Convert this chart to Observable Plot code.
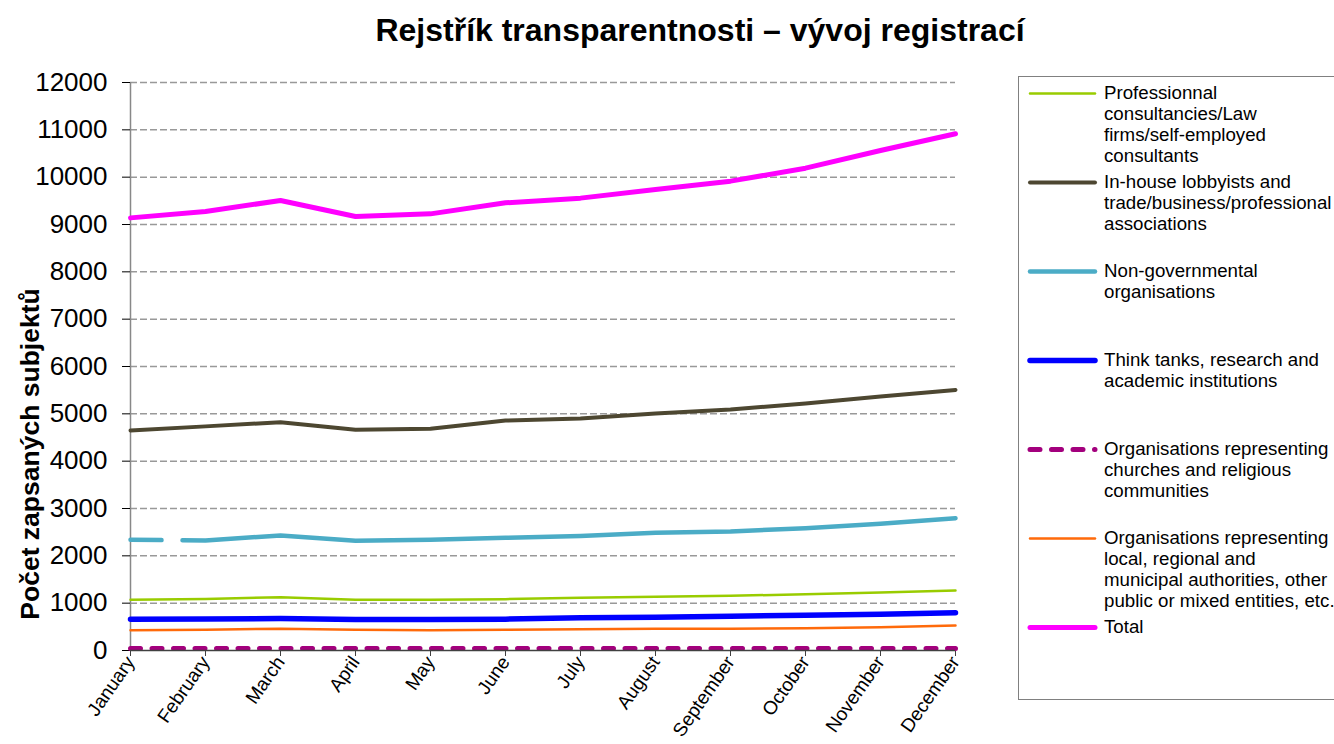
<!DOCTYPE html>
<html>
<head>
<meta charset="utf-8">
<script src="https://cdn.jsdelivr.net/npm/d3@7"></script>
<script src="https://cdn.jsdelivr.net/npm/@observablehq/plot@0.6"></script>
<style>
  html, body { margin: 0; padding: 0; background: #fff; }
  #wrap { position: relative; width: 1334px; height: 744px; overflow: hidden; font-family: "Liberation Sans", Arial, sans-serif; }
  #title { position: absolute; left: 0; width: 1400px; top: 12px; line-height: 36px; text-align: center; font-size: 32px; font-weight: bold; color: #000; }
  #chart { position: absolute; left: 0; top: 60px; }
  #ylabel { position: absolute; left: 30px; top: 454px; transform: translate(-50%, -50%) rotate(-90deg); white-space: nowrap; font-size: 26.5px; font-weight: bold; color: #000; }
  #legend { position: absolute; left: 1018px; top: 76px; width: 400px; height: 624px; border: 1px solid #808080; box-sizing: border-box; }
  .entry { position: absolute; left: 0; width: 400px; }
  .entry svg { position: absolute; left: 8px; top: 0; }
  .entry .txt { position: absolute; left: 85px; top: -1px; font-size: 18.7px; line-height: 21px; color: #000; white-space: pre; }
</style>
</head>
<body>
<div id="wrap">
  <div id="title">Rejstřík transparentnosti – vývoj registrací</div>
  <div id="chart"></div>
  <div id="ylabel">Počet zapsaných subjektů</div>
  <div id="legend"></div>
</div>
<script>
// ---- data ----
const months = ["January","February","March","April","May","June","July","August","September","October","November","December"];
const professional = [1070,1090,1127,1070,1070,1085,1113,1134,1155,1190,1225,1268];
const inHouse = [4648,4735,4824,4662,4683,4859,4900,5007,5090,5218,5366,5505];
const ngo = [2338,2324,2430,2317,2338,2380,2420,2486,2514,2585,2676,2796];
const thinkTanks = [662,665,676,655,655,662,690,704,725,746,767,796];
const churches = [40,40,40,40,40,40,40,40,40,40,40,40];
const localAuth = [430,440,458,437,430,437,451,458,458,472,493,528];
const total = [9140,9275,9508,9170,9225,9458,9557,9740,9916,10190,10564,10916];
const yTicks = [0,1000,2000,3000,4000,5000,6000,7000,8000,9000,10000,11000,12000];
const seriesNames = [
  "Professionnal\nconsultancies/Law\nfirms/self-employed\nconsultants",
  "In-house lobbyists and\ntrade/business/professional\nassociations",
  "Non-governmental\norganisations",
  "Think tanks, research and\nacademic institutions",
  "Organisations representing\nchurches and religious\ncommunities",
  "Organisations representing\nlocal, regional and\nmunicipal authorities, other\npublic or mixed entities, etc.",
  "Total"
];
const seriesValues = [professional, inHouse, ngo, thinkTanks, churches, localAuth, total];

// ---- styles ----
const styles = [
  {stroke: "#99CC00", strokeWidth: 2.5},
  {stroke: "#4D4731", strokeWidth: 4},
  {stroke: "#4BACC6", strokeWidth: 4.5, strokeDasharray: "31 21 99999"},
  {stroke: "#0000FF", strokeWidth: 5.5},
  {stroke: "#A3007D", strokeWidth: 5, strokeDasharray: "10 11.5"},
  {stroke: "#FF6A0A", strokeWidth: 2.5},
  {stroke: "#FF00FF", strokeWidth: 5}
];

const rows = [];
seriesNames.forEach((name, si) => {
  seriesValues[si].forEach((v, mi) => rows.push({series: si, month: months[mi], value: v}));
});

const lineMarks = seriesNames.map((name, si) => Plot.line(rows.filter(d => d.series === si), {
  x: "month", y: "value",
  stroke: styles[si].stroke,
  strokeWidth: styles[si].strokeWidth,
  strokeDasharray: styles[si].strokeDasharray,
  strokeLinejoin: "round",
  strokeLinecap: "round"
}));

const chart = Plot.plot({
  width: 1000,
  height: 684,
  marginTop: 22,
  marginBottom: 94,
  marginLeft: 130,
  marginRight: 45,
  x: {type: "point", domain: months, padding: 0},
  y: {domain: [0, 12000]},
  style: {fontFamily: "'Liberation Sans', Arial, sans-serif", background: "white", color: "#000"},
  marks: [
    Plot.ruleY(yTicks.filter(t => t > 0), {stroke: "#999", strokeWidth: 1.5, strokeDasharray: "7 3"}),
    Plot.ruleX([months[0]], {stroke: "#888", strokeWidth: 1.5}),
    Plot.axisY({ticks: yTicks, tickSize: 8, tickPadding: 15, fontSize: 26, label: null, tickFormat: d3.format("d"), stroke: "#000", color: "#000"}),
    Plot.axisX({tickSize: 6, tickPadding: 2, tickRotate: -55, fontSize: 19, label: null, stroke: "#404040", color: "#000"}),
    ...lineMarks,
    Plot.ruleY([0], {stroke: "#404040", strokeWidth: 1.5})
  ]
});
document.getElementById("chart").appendChild(chart);

// ---- legend ----
const legend = d3.select("#legend");
const legendTop = 16, legendStep = 89;
seriesNames.forEach((name, si) => {
  const e = legend.append("div").attr("class", "entry").style("top", (legendTop + si * legendStep - 10.5) + "px");
  const svg = e.append("svg").attr("width", 72).attr("height", 21);
  svg.append("line").attr("x1", 3).attr("x2", 68).attr("y1", 10.5).attr("y2", 10.5)
    .attr("stroke", styles[si].stroke)
    .attr("stroke-width", styles[si].strokeWidth)
    .attr("stroke-linecap", "round")
    .attr("stroke-dasharray", si === 4 ? "10 11.5" : null);
  e.append("div").attr("class", "txt").text(name);
});
</script>
</body>
</html>
